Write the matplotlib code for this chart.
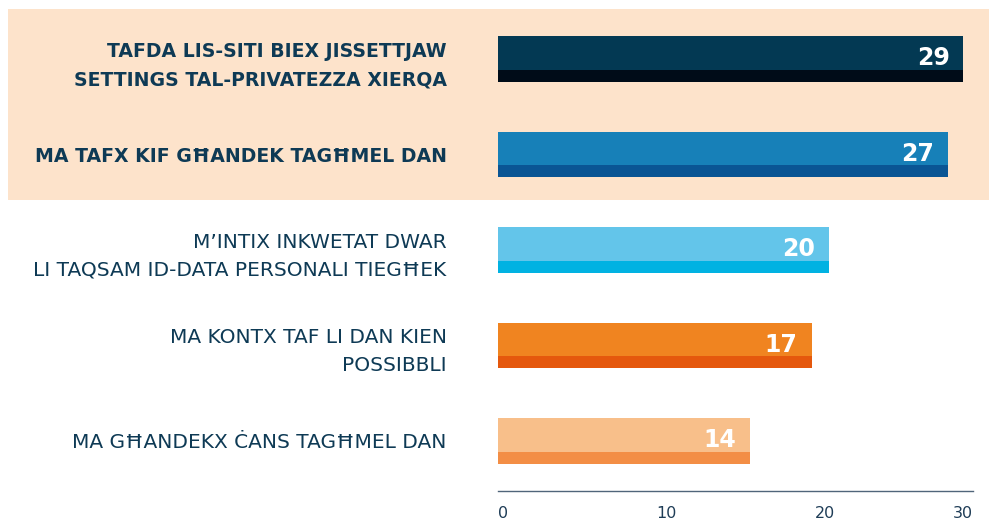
import matplotlib
matplotlib.use('Agg')
import matplotlib.pyplot as plt
from matplotlib.patches import Rectangle

# Data
labels = [
    'TAFDA LIS-SITI BIEX JISSETTJAW\nSETTINGS TAL-PRIVATEZZA XIERQA',
    'MA TAFX KIF GĦANDEK TAGĦMEL DAN',
    'M\u2019INTIX INKWETAT DWAR\nLI TAQSAM ID-DATA PERSONALI TIEGĦEK',
    'MA KONTX TAF LI DAN KIEN\nPOSSIBBLI',
    'MA GĦANDEKX ĊANS TAGĦMEL DAN',
]
bar_lengths = [29.4, 28.4, 20.9, 19.8, 15.9]
value_labels = ['29', '27', '20', '17', '14']
bold_rows = [True, True, False, False, False]
x_ticks = [0, 10, 20, 30]

main_colors = ['#033953', '#1780b8', '#63c5ea', '#f08420', '#f8bf8a']
strip_colors = ['#000c18', '#0a5594', '#01b2e2', '#e5580d', '#f38e45']

TEXT = '#0e3a55'
HIGHLIGHT = '#fde3cb'

W, H = 989, 523
fig = plt.figure(figsize=(W / 100, H / 100), dpi=100)

# Highlight band behind the first two rows
fig.patches.append(Rectangle((8 / W, 1 - 200 / H), (W - 8) / W, 191 / H,
                             transform=fig.transFigure, facecolor=HIGHLIGHT,
                             edgecolor='none', zorder=-1))

ax = fig.add_axes([498 / W, 1 - 491 / H, 475 / W, 482 / H])
ax.set_facecolor('none')

n = len(labels)
ypos = list(range(n))
bar_h = 0.48
strip_h = 0.125

ax.barh(ypos, bar_lengths, height=bar_h, color=main_colors, zorder=2)
# darker strip along the bottom of every bar
ax.barh([y + bar_h / 2 - strip_h / 2 for y in ypos], bar_lengths,
        height=strip_h, color=strip_colors, zorder=3)

for y, length, txt in zip(ypos, bar_lengths, value_labels):
    ax.annotate(txt, xy=(length, y - 0.01), xytext=(-10, 0),
                textcoords='offset points', ha='right', va='center',
                color='white', fontsize=17, fontweight='bold', zorder=4)

ax.set_xlim(0, 30)
ax.set_ylim(n - 1 + 0.524, -0.524)

ax.set_yticks(ypos)
ax.set_yticklabels(labels, fontsize=14.5, color=TEXT, linespacing=1.55)
for lab, b in zip(ax.get_yticklabels(), bold_rows):
    if b:
        lab.set_fontweight('bold')
        lab.set_fontsize(13.6)
        lab.set_linespacing(1.65)
ax.tick_params(axis='y', length=0, pad=37)

ax.set_xticks(x_ticks)
ax.set_xticklabels([str(t) for t in x_ticks], fontsize=11.5, color='#1f3d57')
ax.tick_params(axis='x', length=0, pad=11)
xl = ax.get_xticklabels()
for lab in xl[:-1]:
    lab.set_horizontalalignment('left')
xl[-1].set_horizontalalignment('right')

for s in ['top', 'right', 'left']:
    ax.spines[s].set_visible(False)
ax.spines['bottom'].set_color('#50657a')
ax.spines['bottom'].set_linewidth(1.0)

fig.savefig('out.png', dpi=100)
